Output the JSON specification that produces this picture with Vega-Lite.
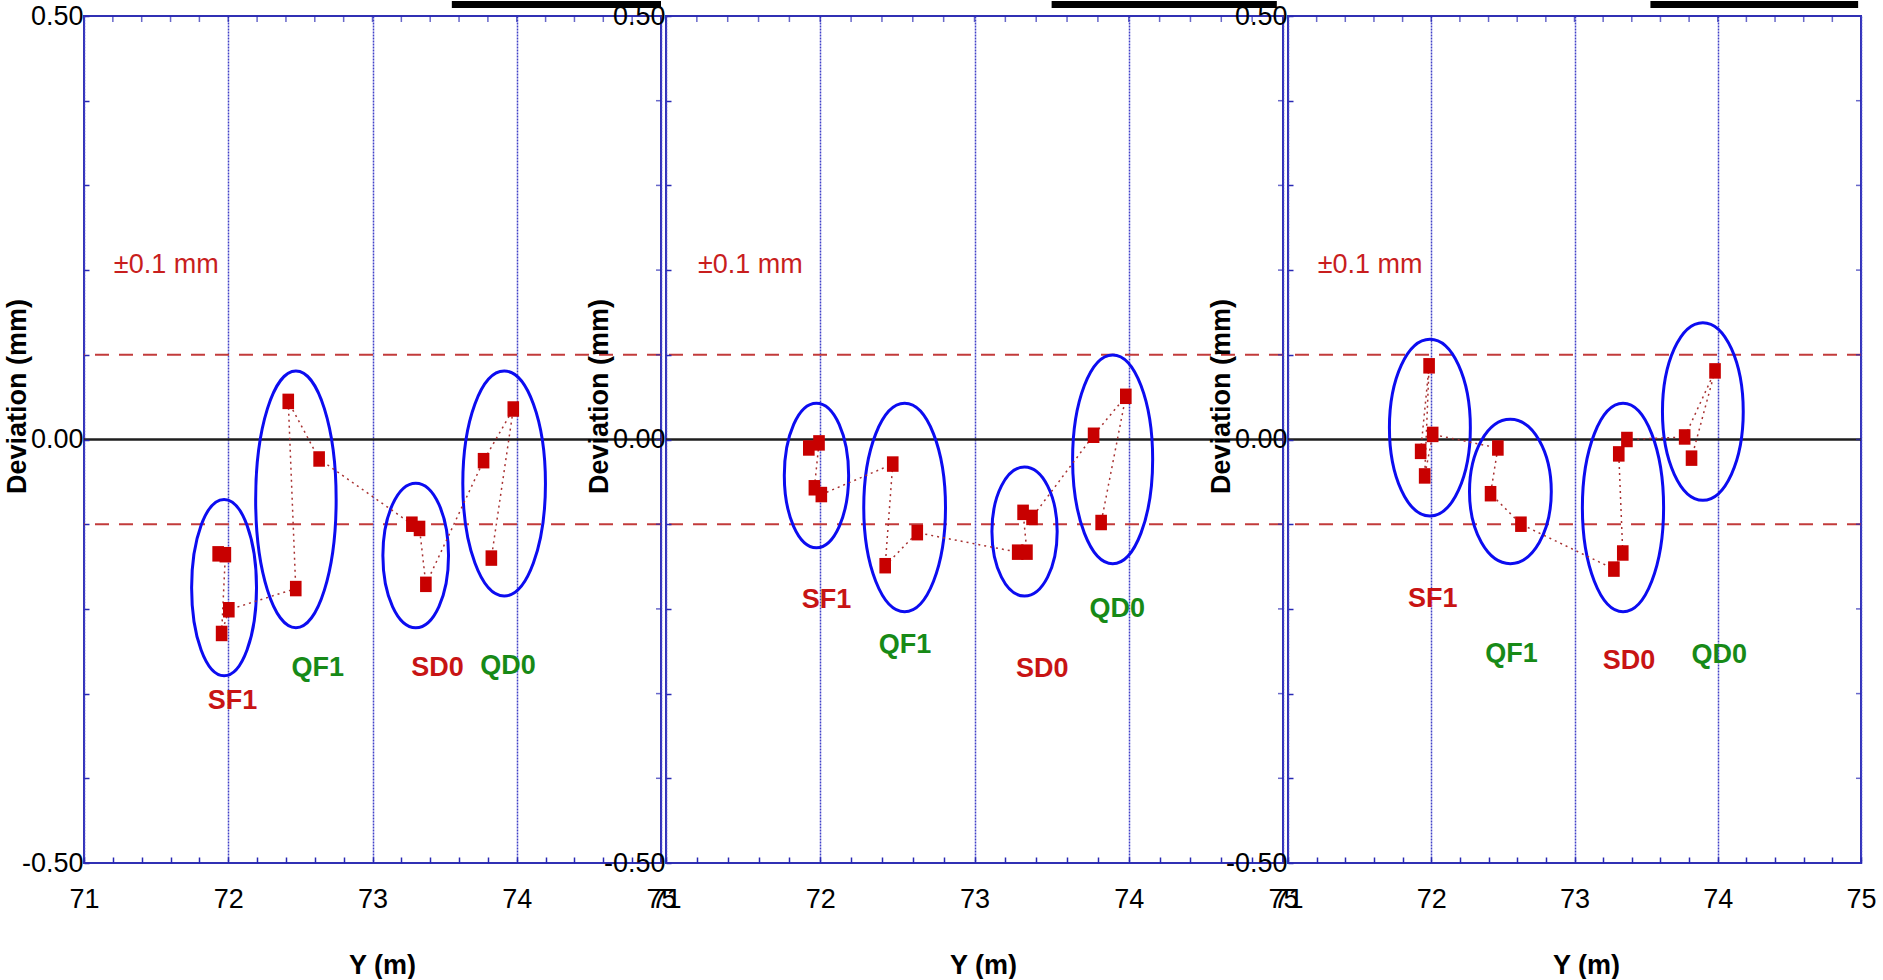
{
  "$schema": "https://vega.github.io/schema/vega-lite/v6.json",
  "background": "white",
  "padding": {"left": 2, "top": 0, "right": 0, "bottom": 0},
  "autosize": {"type": "pad"},
  "bounds": "flush",
  "spacing": 5,
  "config": {
    "font": "Liberation Sans",
    "view": {"stroke": "#3030b4", "strokeWidth": 2},
    "axis": {"labelFont": "Liberation Sans", "titleFont": "Liberation Sans", "labelColor": "#000", "titleColor": "#000"}
  },
  "datasets": {
    "ref": [
      {"kind": "tolerance", "level": 0.1},
      {"kind": "tolerance", "level": -0.1},
      {"kind": "zero", "level": 0}
    ],
    "minor": [
      {"axis": "x", "v": 71.2}, {"axis": "x", "v": 71.4}, {"axis": "x", "v": 71.6}, {"axis": "x", "v": 71.8},
      {"axis": "x", "v": 72.0}, {"axis": "x", "v": 72.2}, {"axis": "x", "v": 72.4}, {"axis": "x", "v": 72.6},
      {"axis": "x", "v": 72.8}, {"axis": "x", "v": 73.0}, {"axis": "x", "v": 73.2}, {"axis": "x", "v": 73.4},
      {"axis": "x", "v": 73.6}, {"axis": "x", "v": 73.8}, {"axis": "x", "v": 74.0}, {"axis": "x", "v": 74.2},
      {"axis": "x", "v": 74.4}, {"axis": "x", "v": 74.6}, {"axis": "x", "v": 74.8},
      {"axis": "y", "v": -0.4}, {"axis": "y", "v": -0.3}, {"axis": "y", "v": -0.2}, {"axis": "y", "v": -0.1},
      {"axis": "y", "v": 0.0}, {"axis": "y", "v": 0.1}, {"axis": "y", "v": 0.2}, {"axis": "y", "v": 0.3},
      {"axis": "y", "v": 0.4}
    ],
    "note": [{"x": 71.207, "y": 0.206, "text": "±0.1 mm"}],
    "pts": [
      {"panel": 1, "seq": 1, "x": 71.930, "y": -0.135},
      {"panel": 1, "seq": 2, "x": 71.980, "y": -0.136},
      {"panel": 1, "seq": 3, "x": 71.954, "y": -0.229},
      {"panel": 1, "seq": 4, "x": 72.004, "y": -0.201},
      {"panel": 1, "seq": 5, "x": 72.468, "y": -0.176},
      {"panel": 1, "seq": 6, "x": 72.416, "y": 0.045},
      {"panel": 1, "seq": 7, "x": 72.630, "y": -0.023},
      {"panel": 1, "seq": 8, "x": 73.273, "y": -0.100},
      {"panel": 1, "seq": 9, "x": 73.326, "y": -0.105},
      {"panel": 1, "seq": 10, "x": 73.370, "y": -0.171},
      {"panel": 1, "seq": 11, "x": 73.770, "y": -0.025},
      {"panel": 1, "seq": 12, "x": 73.976, "y": 0.036},
      {"panel": 1, "seq": 13, "x": 73.824, "y": -0.140},
      {"panel": 2, "seq": 1, "x": 71.926, "y": -0.010},
      {"panel": 2, "seq": 2, "x": 71.992, "y": -0.004},
      {"panel": 2, "seq": 3, "x": 71.962, "y": -0.057},
      {"panel": 2, "seq": 4, "x": 72.007, "y": -0.065},
      {"panel": 2, "seq": 5, "x": 72.470, "y": -0.029},
      {"panel": 2, "seq": 6, "x": 72.421, "y": -0.149},
      {"panel": 2, "seq": 7, "x": 72.629, "y": -0.110},
      {"panel": 2, "seq": 8, "x": 73.280, "y": -0.133},
      {"panel": 2, "seq": 9, "x": 73.340, "y": -0.133},
      {"panel": 2, "seq": 10, "x": 73.315, "y": -0.086},
      {"panel": 2, "seq": 11, "x": 73.373, "y": -0.092},
      {"panel": 2, "seq": 12, "x": 73.772, "y": 0.005},
      {"panel": 2, "seq": 13, "x": 73.981, "y": 0.051},
      {"panel": 2, "seq": 14, "x": 73.821, "y": -0.098},
      {"panel": 3, "seq": 1, "x": 71.926, "y": -0.014},
      {"panel": 3, "seq": 2, "x": 71.985, "y": 0.087},
      {"panel": 3, "seq": 3, "x": 71.954, "y": -0.043},
      {"panel": 3, "seq": 4, "x": 72.010, "y": 0.006},
      {"panel": 3, "seq": 5, "x": 72.465, "y": -0.010},
      {"panel": 3, "seq": 6, "x": 72.414, "y": -0.064},
      {"panel": 3, "seq": 7, "x": 72.626, "y": -0.100},
      {"panel": 3, "seq": 8, "x": 73.275, "y": -0.153},
      {"panel": 3, "seq": 9, "x": 73.337, "y": -0.134},
      {"panel": 3, "seq": 10, "x": 73.309, "y": -0.017},
      {"panel": 3, "seq": 11, "x": 73.366, "y": 0.000},
      {"panel": 3, "seq": 12, "x": 73.769, "y": 0.003},
      {"panel": 3, "seq": 13, "x": 73.981, "y": 0.081},
      {"panel": 3, "seq": 14, "x": 73.817, "y": -0.022}
    ],
    "ell": [
      {"panel": 1, "magnet": "SF1", "k": 0, "x": 71.971, "y": -0.0707},
      {"panel": 1, "magnet": "SF1", "k": 1, "x": 72.196, "y": -0.175},
      {"panel": 1, "magnet": "SF1", "k": 2, "x": 71.971, "y": -0.279},
      {"panel": 1, "magnet": "SF1", "k": 3, "x": 71.746, "y": -0.175},
      {"panel": 1, "magnet": "QF1", "k": 0, "x": 72.469, "y": 0.0809},
      {"panel": 1, "magnet": "QF1", "k": 1, "x": 72.748, "y": -0.0707},
      {"panel": 1, "magnet": "QF1", "k": 2, "x": 72.469, "y": -0.2222},
      {"panel": 1, "magnet": "QF1", "k": 3, "x": 72.190, "y": -0.0707},
      {"panel": 1, "magnet": "SD0", "k": 0, "x": 73.300, "y": -0.0517},
      {"panel": 1, "magnet": "SD0", "k": 1, "x": 73.527, "y": -0.137},
      {"panel": 1, "magnet": "SD0", "k": 2, "x": 73.300, "y": -0.2222},
      {"panel": 1, "magnet": "SD0", "k": 3, "x": 73.072, "y": -0.137},
      {"panel": 1, "magnet": "QD0", "k": 0, "x": 73.913, "y": 0.0809},
      {"panel": 1, "magnet": "QD0", "k": 1, "x": 74.199, "y": -0.052},
      {"panel": 1, "magnet": "QD0", "k": 2, "x": 73.913, "y": -0.1848},
      {"panel": 1, "magnet": "QD0", "k": 3, "x": 73.626, "y": -0.052},
      {"panel": 2, "magnet": "SF1", "k": 0, "x": 71.975, "y": 0.0427},
      {"panel": 2, "magnet": "SF1", "k": 1, "x": 72.184, "y": -0.0425},
      {"panel": 2, "magnet": "SF1", "k": 2, "x": 71.975, "y": -0.1277},
      {"panel": 2, "magnet": "SF1", "k": 3, "x": 71.767, "y": -0.0425},
      {"panel": 2, "magnet": "QF1", "k": 0, "x": 72.547, "y": 0.0427},
      {"panel": 2, "magnet": "QF1", "k": 1, "x": 72.812, "y": -0.0803},
      {"panel": 2, "magnet": "QF1", "k": 2, "x": 72.547, "y": -0.2033},
      {"panel": 2, "magnet": "QF1", "k": 3, "x": 72.282, "y": -0.0803},
      {"panel": 2, "magnet": "SD0", "k": 0, "x": 73.324, "y": -0.0325},
      {"panel": 2, "magnet": "SD0", "k": 1, "x": 73.536, "y": -0.1086},
      {"panel": 2, "magnet": "SD0", "k": 2, "x": 73.324, "y": -0.1848},
      {"panel": 2, "magnet": "SD0", "k": 3, "x": 73.113, "y": -0.1086},
      {"panel": 2, "magnet": "QD0", "k": 0, "x": 73.896, "y": 0.0998},
      {"panel": 2, "magnet": "QD0", "k": 1, "x": 74.155, "y": -0.0234},
      {"panel": 2, "magnet": "QD0", "k": 2, "x": 73.896, "y": -0.1466},
      {"panel": 2, "magnet": "QD0", "k": 3, "x": 73.636, "y": -0.0234},
      {"panel": 3, "magnet": "SF1", "k": 0, "x": 71.991, "y": 0.1183},
      {"panel": 3, "magnet": "SF1", "k": 1, "x": 72.273, "y": 0.014},
      {"panel": 3, "magnet": "SF1", "k": 2, "x": 71.991, "y": -0.0903},
      {"panel": 3, "magnet": "SF1", "k": 3, "x": 71.708, "y": 0.014},
      {"panel": 3, "magnet": "QF1", "k": 0, "x": 72.552, "y": 0.0238},
      {"panel": 3, "magnet": "QF1", "k": 1, "x": 72.838, "y": -0.0614},
      {"panel": 3, "magnet": "QF1", "k": 2, "x": 72.552, "y": -0.1466},
      {"panel": 3, "magnet": "QF1", "k": 3, "x": 72.267, "y": -0.0614},
      {"panel": 3, "magnet": "SD0", "k": 0, "x": 73.339, "y": 0.0427},
      {"panel": 3, "magnet": "SD0", "k": 1, "x": 73.622, "y": -0.0803},
      {"panel": 3, "magnet": "SD0", "k": 2, "x": 73.339, "y": -0.2033},
      {"panel": 3, "magnet": "SD0", "k": 3, "x": 73.055, "y": -0.0803},
      {"panel": 3, "magnet": "QD0", "k": 0, "x": 73.896, "y": 0.1379},
      {"panel": 3, "magnet": "QD0", "k": 1, "x": 74.178, "y": 0.033},
      {"panel": 3, "magnet": "QD0", "k": 2, "x": 73.896, "y": -0.0718},
      {"panel": 3, "magnet": "QD0", "k": 3, "x": 73.614, "y": 0.033}
    ],
    "lab": [
      {"panel": 1, "magnet": "SF1", "family": "sextupole", "x": 72.03, "y": -0.309},
      {"panel": 1, "magnet": "QF1", "family": "quadrupole", "x": 72.62, "y": -0.270},
      {"panel": 1, "magnet": "SD0", "family": "sextupole", "x": 73.45, "y": -0.270},
      {"panel": 1, "magnet": "QD0", "family": "quadrupole", "x": 73.94, "y": -0.267},
      {"panel": 2, "magnet": "SF1", "family": "sextupole", "x": 72.04, "y": -0.190},
      {"panel": 2, "magnet": "QF1", "family": "quadrupole", "x": 72.55, "y": -0.243},
      {"panel": 2, "magnet": "SD0", "family": "sextupole", "x": 73.44, "y": -0.271},
      {"panel": 2, "magnet": "QD0", "family": "quadrupole", "x": 73.925, "y": -0.200},
      {"panel": 3, "magnet": "SF1", "family": "sextupole", "x": 72.01, "y": -0.188},
      {"panel": 3, "magnet": "QF1", "family": "quadrupole", "x": 72.56, "y": -0.253},
      {"panel": 3, "magnet": "SD0", "family": "sextupole", "x": 73.38, "y": -0.262},
      {"panel": 3, "magnet": "QD0", "family": "quadrupole", "x": 74.01, "y": -0.254}
    ],
    "bar": [
      {"panel": 1, "x1": 73.55, "x2": 75.0, "y1": 0.5094, "y2": 0.5177},
      {"panel": 2, "x1": 73.50, "x2": 74.96, "y1": 0.5094, "y2": 0.5177},
      {"panel": 3, "x1": 73.53, "x2": 74.98, "y1": 0.5094, "y2": 0.5177}
    ]
  },
  "hconcat": [
    {
      "width": 577, "height": 847,
      "layer": [
        {
          "data": {"name": "ref"},
          "transform": [{"filter": "datum.kind == 'tolerance'"}],
          "mark": {"type": "rule", "color": "#c23b3b", "strokeWidth": 2, "strokeDash": [14, 10]},
          "encoding": {
            "y": {"field": "level", "type": "quantitative", "scale": {"domain": [-0.5, 0.5], "nice": false, "zero": false},
              "axis": {"orient": "left", "values": [-0.5, -0.4, -0.3, -0.2, -0.1, 0, 0.1, 0.2, 0.3, 0.4, 0.5], "tickCount": 50, "labelExpr": "abs(datum.value) > 0.45 || abs(datum.value) < 0.05 ? (datum.value < 0 ? '-' + format(-datum.value, '.2f') : format(abs(datum.value), '.2f')) : ''", "labelFontSize": 27, "labelPadding": 6, "ticks": true, "tickSize": -5, "tickColor": "#2828b4", "tickWidth": 1.5, "domain": false, "grid": false, "labelOverlap": false, "labelFlush": false, "title": "Deviation (mm)", "titleFontSize": 27, "titleFontWeight": "bold", "titleX": -67, "titleY": 380, "titleAngle": 270, "titleBaseline": "middle", "titleAlign": "center", "zindex": 1}}
          }
        },
        {
          "data": {"name": "ref"},
          "transform": [{"filter": "datum.kind == 'zero'"}],
          "mark": {"type": "rule", "color": "#1e1e1e", "strokeWidth": 2.5},
          "encoding": {"y": {"field": "level", "type": "quantitative"}}
        },
        {
          "data": {"name": "ell"},
          "transform": [{"filter": "datum.panel == 1"}],
          "mark": {"type": "line", "interpolate": "cardinal-closed", "tension": -0.657, "color": "#0c0cf0", "strokeWidth": 3},
          "encoding": {
            "x": {"field": "x", "type": "quantitative", "scale": {"domain": [71, 75], "nice": false, "zero": false},
              "axis": {"orient": "bottom", "values": [71, 71.2, 71.4, 71.6, 71.8, 72, 72.2, 72.4, 72.6, 72.8, 73, 73.2, 73.4, 73.6, 73.8, 74, 74.2, 74.4, 74.6, 74.8, 75], "tickCount": 50, "labelExpr": "abs(datum.value - round(datum.value)) < 0.001 ? format(round(datum.value), 'd') : ''", "labelFontSize": 27, "labelPadding": 29, "ticks": true, "tickSize": -6, "tickColor": "#2828b4", "tickWidth": 1.5, "domain": false, "grid": true, "gridColor": "#4040c8", "gridDash": [2, 1], "gridWidth": 1.5, "gridOpacity": {"condition": {"test": "abs(datum.value - round(datum.value)) < 0.001", "value": 1}, "value": 0}, "labelFlush": false, "labelOverlap": false, "title": "Y (m)", "titleFontSize": 27, "titleFontWeight": "bold", "titleX": 298, "titleY": 110, "titleBaseline": "alphabetic", "titleAlign": "center", "zindex": 0}},
            "y": {"field": "y", "type": "quantitative"},
            "detail": {"field": "magnet"},
            "order": {"field": "k", "type": "quantitative"}
          }
        },
        {
          "data": {"name": "minor"},
          "transform": [{"filter": "datum.axis == 'x'"}],
          "mark": {"type": "tick", "orient": "vertical", "size": 12, "thickness": 1.5, "color": "#2828b4", "clip": true},
          "encoding": {
            "x": {"field": "v", "type": "quantitative"},
            "y": {"datum": 0.5, "type": "quantitative"}
          }
        },
        {
          "data": {"name": "minor"},
          "transform": [{"filter": "datum.axis == 'y'"}],
          "mark": {"type": "tick", "orient": "horizontal", "size": 10, "thickness": 1.5, "color": "#2828b4", "clip": true},
          "encoding": {
            "x": {"datum": 75, "type": "quantitative"},
            "y": {"field": "v", "type": "quantitative"}
          }
        },
        {
          "data": {"name": "pts"},
          "transform": [{"filter": "datum.panel == 1"}],
          "mark": {"type": "line", "color": "#a83232", "strokeWidth": 1.5, "strokeDash": [2, 4]},
          "encoding": {
            "x": {"field": "x", "type": "quantitative"},
            "y": {"field": "y", "type": "quantitative"},
            "order": {"field": "seq", "type": "quantitative"}
          }
        },
        {
          "data": {"name": "pts"},
          "transform": [{"filter": "datum.panel == 1"}],
          "mark": {"type": "point", "shape": "M-0.75,-1L0.75,-1L0.75,1L-0.75,1Z", "size": 240, "filled": true, "color": "#c80000", "opacity": 1},
          "encoding": {
            "x": {"field": "x", "type": "quantitative"},
            "y": {"field": "y", "type": "quantitative"}
          }
        },
        {
          "data": {"name": "lab"},
          "transform": [{"filter": "datum.panel == 1"}],
          "mark": {"type": "text", "fontSize": 27, "fontWeight": "bold", "font": "Liberation Sans", "baseline": "middle", "align": "center"},
          "encoding": {
            "x": {"field": "x", "type": "quantitative"},
            "y": {"field": "y", "type": "quantitative"},
            "text": {"field": "magnet"},
            "color": {"field": "family", "type": "nominal", "scale": {"domain": ["sextupole", "quadrupole"], "range": ["#c81414", "#178a17"]}, "legend": null}
          }
        },
        {
          "data": {"name": "note"},
          "mark": {"type": "text", "fontSize": 27, "font": "Liberation Sans", "baseline": "middle", "align": "left", "color": "#c81e1e"},
          "encoding": {
            "x": {"field": "x", "type": "quantitative"},
            "y": {"field": "y", "type": "quantitative"},
            "text": {"field": "text"}
          }
        },
        {
          "data": {"name": "bar"},
          "transform": [{"filter": "datum.panel == 1"}],
          "mark": {"type": "rect", "color": "#000"},
          "encoding": {
            "x": {"field": "x1", "type": "quantitative"},
            "x2": {"field": "x2"},
            "y": {"field": "y1", "type": "quantitative"},
            "y2": {"field": "y2"}
          }
        }
      ]
    },
    {
      "width": 617, "height": 847,
      "layer": [
        {
          "data": {"name": "ref"},
          "transform": [{"filter": "datum.kind == 'tolerance'"}],
          "mark": {"type": "rule", "color": "#c23b3b", "strokeWidth": 2, "strokeDash": [14, 10]},
          "encoding": {
            "y": {"field": "level", "type": "quantitative", "scale": {"domain": [-0.5, 0.5], "nice": false, "zero": false},
              "axis": {"orient": "left", "values": [-0.5, -0.4, -0.3, -0.2, -0.1, 0, 0.1, 0.2, 0.3, 0.4, 0.5], "tickCount": 50, "labelExpr": "abs(datum.value) > 0.45 || abs(datum.value) < 0.05 ? (datum.value < 0 ? '-' + format(-datum.value, '.2f') : format(abs(datum.value), '.2f')) : ''", "labelFontSize": 27, "labelPadding": 6, "ticks": true, "tickSize": -5, "tickColor": "#2828b4", "tickWidth": 1.5, "domain": false, "grid": false, "labelOverlap": false, "labelFlush": false, "title": "Deviation (mm)", "titleFontSize": 27, "titleFontWeight": "bold", "titleX": -67, "titleY": 380, "titleAngle": 270, "titleBaseline": "middle", "titleAlign": "center", "zindex": 1}}
          }
        },
        {
          "data": {"name": "ref"},
          "transform": [{"filter": "datum.kind == 'zero'"}],
          "mark": {"type": "rule", "color": "#1e1e1e", "strokeWidth": 2.5},
          "encoding": {"y": {"field": "level", "type": "quantitative"}}
        },
        {
          "data": {"name": "ell"},
          "transform": [{"filter": "datum.panel == 2"}],
          "mark": {"type": "line", "interpolate": "cardinal-closed", "tension": -0.657, "color": "#0c0cf0", "strokeWidth": 3},
          "encoding": {
            "x": {"field": "x", "type": "quantitative", "scale": {"domain": [71, 75], "nice": false, "zero": false},
              "axis": {"orient": "bottom", "values": [71, 71.2, 71.4, 71.6, 71.8, 72, 72.2, 72.4, 72.6, 72.8, 73, 73.2, 73.4, 73.6, 73.8, 74, 74.2, 74.4, 74.6, 74.8, 75], "tickCount": 50, "labelExpr": "abs(datum.value - round(datum.value)) < 0.001 ? format(round(datum.value), 'd') : ''", "labelFontSize": 27, "labelPadding": 29, "ticks": true, "tickSize": -6, "tickColor": "#2828b4", "tickWidth": 1.5, "domain": false, "grid": true, "gridColor": "#4040c8", "gridDash": [2, 1], "gridWidth": 1.5, "gridOpacity": {"condition": {"test": "abs(datum.value - round(datum.value)) < 0.001", "value": 1}, "value": 0}, "labelFlush": false, "labelOverlap": false, "title": "Y (m)", "titleFontSize": 27, "titleFontWeight": "bold", "titleX": 317, "titleY": 110, "titleBaseline": "alphabetic", "titleAlign": "center", "zindex": 0}},
            "y": {"field": "y", "type": "quantitative"},
            "detail": {"field": "magnet"},
            "order": {"field": "k", "type": "quantitative"}
          }
        },
        {
          "data": {"name": "minor"},
          "transform": [{"filter": "datum.axis == 'x'"}],
          "mark": {"type": "tick", "orient": "vertical", "size": 12, "thickness": 1.5, "color": "#2828b4", "clip": true},
          "encoding": {
            "x": {"field": "v", "type": "quantitative"},
            "y": {"datum": 0.5, "type": "quantitative"}
          }
        },
        {
          "data": {"name": "minor"},
          "transform": [{"filter": "datum.axis == 'y'"}],
          "mark": {"type": "tick", "orient": "horizontal", "size": 10, "thickness": 1.5, "color": "#2828b4", "clip": true},
          "encoding": {
            "x": {"datum": 75, "type": "quantitative"},
            "y": {"field": "v", "type": "quantitative"}
          }
        },
        {
          "data": {"name": "pts"},
          "transform": [{"filter": "datum.panel == 2"}],
          "mark": {"type": "line", "color": "#a83232", "strokeWidth": 1.5, "strokeDash": [2, 4]},
          "encoding": {
            "x": {"field": "x", "type": "quantitative"},
            "y": {"field": "y", "type": "quantitative"},
            "order": {"field": "seq", "type": "quantitative"}
          }
        },
        {
          "data": {"name": "pts"},
          "transform": [{"filter": "datum.panel == 2"}],
          "mark": {"type": "point", "shape": "M-0.75,-1L0.75,-1L0.75,1L-0.75,1Z", "size": 240, "filled": true, "color": "#c80000", "opacity": 1},
          "encoding": {
            "x": {"field": "x", "type": "quantitative"},
            "y": {"field": "y", "type": "quantitative"}
          }
        },
        {
          "data": {"name": "lab"},
          "transform": [{"filter": "datum.panel == 2"}],
          "mark": {"type": "text", "fontSize": 27, "fontWeight": "bold", "font": "Liberation Sans", "baseline": "middle", "align": "center"},
          "encoding": {
            "x": {"field": "x", "type": "quantitative"},
            "y": {"field": "y", "type": "quantitative"},
            "text": {"field": "magnet"},
            "color": {"field": "family", "type": "nominal", "scale": {"domain": ["sextupole", "quadrupole"], "range": ["#c81414", "#178a17"]}, "legend": null}
          }
        },
        {
          "data": {"name": "note"},
          "mark": {"type": "text", "fontSize": 27, "font": "Liberation Sans", "baseline": "middle", "align": "left", "color": "#c81e1e"},
          "encoding": {
            "x": {"field": "x", "type": "quantitative"},
            "y": {"field": "y", "type": "quantitative"},
            "text": {"field": "text"}
          }
        },
        {
          "data": {"name": "bar"},
          "transform": [{"filter": "datum.panel == 2"}],
          "mark": {"type": "rect", "color": "#000"},
          "encoding": {
            "x": {"field": "x1", "type": "quantitative"},
            "x2": {"field": "x2"},
            "y": {"field": "y1", "type": "quantitative"},
            "y2": {"field": "y2"}
          }
        }
      ]
    },
    {
      "width": 573, "height": 847,
      "layer": [
        {
          "data": {"name": "ref"},
          "transform": [{"filter": "datum.kind == 'tolerance'"}],
          "mark": {"type": "rule", "color": "#c23b3b", "strokeWidth": 2, "strokeDash": [14, 10]},
          "encoding": {
            "y": {"field": "level", "type": "quantitative", "scale": {"domain": [-0.5, 0.5], "nice": false, "zero": false},
              "axis": {"orient": "left", "values": [-0.5, -0.4, -0.3, -0.2, -0.1, 0, 0.1, 0.2, 0.3, 0.4, 0.5], "tickCount": 50, "labelExpr": "abs(datum.value) > 0.45 || abs(datum.value) < 0.05 ? (datum.value < 0 ? '-' + format(-datum.value, '.2f') : format(abs(datum.value), '.2f')) : ''", "labelFontSize": 27, "labelPadding": 6, "ticks": true, "tickSize": -5, "tickColor": "#2828b4", "tickWidth": 1.5, "domain": false, "grid": false, "labelOverlap": false, "labelFlush": false, "title": "Deviation (mm)", "titleFontSize": 27, "titleFontWeight": "bold", "titleX": -67, "titleY": 380, "titleAngle": 270, "titleBaseline": "middle", "titleAlign": "center", "zindex": 1}}
          }
        },
        {
          "data": {"name": "ref"},
          "transform": [{"filter": "datum.kind == 'zero'"}],
          "mark": {"type": "rule", "color": "#1e1e1e", "strokeWidth": 2.5},
          "encoding": {"y": {"field": "level", "type": "quantitative"}}
        },
        {
          "data": {"name": "ell"},
          "transform": [{"filter": "datum.panel == 3"}],
          "mark": {"type": "line", "interpolate": "cardinal-closed", "tension": -0.657, "color": "#0c0cf0", "strokeWidth": 3},
          "encoding": {
            "x": {"field": "x", "type": "quantitative", "scale": {"domain": [71, 75], "nice": false, "zero": false},
              "axis": {"orient": "bottom", "values": [71, 71.2, 71.4, 71.6, 71.8, 72, 72.2, 72.4, 72.6, 72.8, 73, 73.2, 73.4, 73.6, 73.8, 74, 74.2, 74.4, 74.6, 74.8, 75], "tickCount": 50, "labelExpr": "abs(datum.value - round(datum.value)) < 0.001 ? format(round(datum.value), 'd') : ''", "labelFontSize": 27, "labelPadding": 29, "ticks": true, "tickSize": -6, "tickColor": "#2828b4", "tickWidth": 1.5, "domain": false, "grid": true, "gridColor": "#4040c8", "gridDash": [2, 1], "gridWidth": 1.5, "gridOpacity": {"condition": {"test": "abs(datum.value - round(datum.value)) < 0.001", "value": 1}, "value": 0}, "labelFlush": false, "labelOverlap": false, "title": "Y (m)", "titleFontSize": 27, "titleFontWeight": "bold", "titleX": 298, "titleY": 110, "titleBaseline": "alphabetic", "titleAlign": "center", "zindex": 0}},
            "y": {"field": "y", "type": "quantitative"},
            "detail": {"field": "magnet"},
            "order": {"field": "k", "type": "quantitative"}
          }
        },
        {
          "data": {"name": "minor"},
          "transform": [{"filter": "datum.axis == 'x'"}],
          "mark": {"type": "tick", "orient": "vertical", "size": 12, "thickness": 1.5, "color": "#2828b4", "clip": true},
          "encoding": {
            "x": {"field": "v", "type": "quantitative"},
            "y": {"datum": 0.5, "type": "quantitative"}
          }
        },
        {
          "data": {"name": "minor"},
          "transform": [{"filter": "datum.axis == 'y'"}],
          "mark": {"type": "tick", "orient": "horizontal", "size": 10, "thickness": 1.5, "color": "#2828b4", "clip": true},
          "encoding": {
            "x": {"datum": 75, "type": "quantitative"},
            "y": {"field": "v", "type": "quantitative"}
          }
        },
        {
          "data": {"name": "pts"},
          "transform": [{"filter": "datum.panel == 3"}],
          "mark": {"type": "line", "color": "#a83232", "strokeWidth": 1.5, "strokeDash": [2, 4]},
          "encoding": {
            "x": {"field": "x", "type": "quantitative"},
            "y": {"field": "y", "type": "quantitative"},
            "order": {"field": "seq", "type": "quantitative"}
          }
        },
        {
          "data": {"name": "pts"},
          "transform": [{"filter": "datum.panel == 3"}],
          "mark": {"type": "point", "shape": "M-0.75,-1L0.75,-1L0.75,1L-0.75,1Z", "size": 240, "filled": true, "color": "#c80000", "opacity": 1},
          "encoding": {
            "x": {"field": "x", "type": "quantitative"},
            "y": {"field": "y", "type": "quantitative"}
          }
        },
        {
          "data": {"name": "lab"},
          "transform": [{"filter": "datum.panel == 3"}],
          "mark": {"type": "text", "fontSize": 27, "fontWeight": "bold", "font": "Liberation Sans", "baseline": "middle", "align": "center"},
          "encoding": {
            "x": {"field": "x", "type": "quantitative"},
            "y": {"field": "y", "type": "quantitative"},
            "text": {"field": "magnet"},
            "color": {"field": "family", "type": "nominal", "scale": {"domain": ["sextupole", "quadrupole"], "range": ["#c81414", "#178a17"]}, "legend": null}
          }
        },
        {
          "data": {"name": "note"},
          "mark": {"type": "text", "fontSize": 27, "font": "Liberation Sans", "baseline": "middle", "align": "left", "color": "#c81e1e"},
          "encoding": {
            "x": {"field": "x", "type": "quantitative"},
            "y": {"field": "y", "type": "quantitative"},
            "text": {"field": "text"}
          }
        },
        {
          "data": {"name": "bar"},
          "transform": [{"filter": "datum.panel == 3"}],
          "mark": {"type": "rect", "color": "#000"},
          "encoding": {
            "x": {"field": "x1", "type": "quantitative"},
            "x2": {"field": "x2"},
            "y": {"field": "y1", "type": "quantitative"},
            "y2": {"field": "y2"}
          }
        }
      ]
    }
  ]
}
